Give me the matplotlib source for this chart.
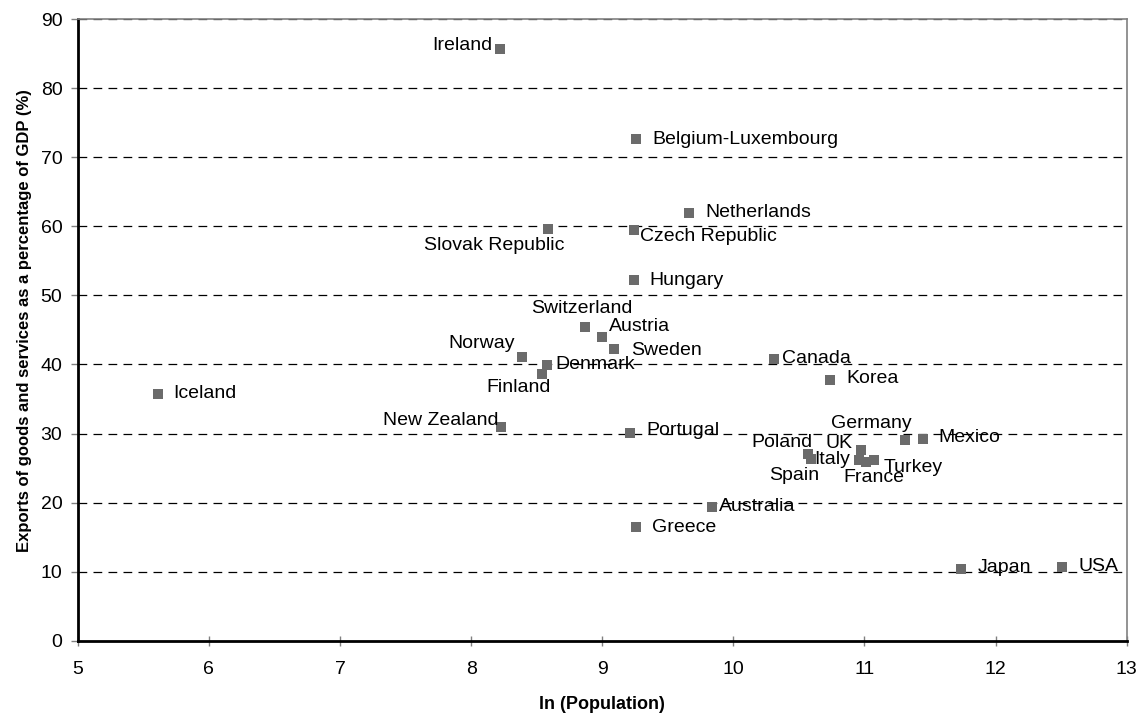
import numpy as np
import matplotlib
matplotlib.use("Agg")
import matplotlib.pyplot as plt

plt.rcParams['font.family'] = ['Liberation Sans', 'DejaVu Sans']

countries = ["Ireland", "Belgium-Luxembourg", "Netherlands", "Slovak Republic",
             "Czech Republic", "Hungary", "Switzerland", "Austria", "Sweden",
             "Norway", "Denmark", "Finland", "Canada", "Korea", "Iceland",
             "New Zealand", "Portugal", "Australia", "Greece", "Japan", "USA",
             "Poland", "Spain", "Italy", "UK", "Germany", "France", "Turkey",
             "Mexico"]
ln_pop = [8.22, 9.26, 9.66, 8.59,
          9.24, 9.24, 8.87, 9.00, 9.09,
          8.39, 8.58, 8.54, 10.31, 10.74, 5.61,
          8.23, 9.21, 9.84, 9.26, 11.74, 12.51,
          10.57, 10.59, 10.96, 10.97, 11.31, 11.01, 11.07,
          11.45]
exports = [85.6, 72.6, 61.9, 59.6,
           59.4, 52.2, 45.4, 43.9, 42.2,
           41.1, 39.9, 38.6, 40.8, 37.7, 35.7,
           31.0, 30.1, 19.4, 16.4, 10.4, 10.7,
           27.0, 26.3, 26.2, 27.6, 29.0, 25.9, 26.1,
           29.2]

# label placement: pixel offset (dx, dy) and alignment
label_pos = {
    "Ireland": (-8, 4, "right"), "Belgium-Luxembourg": (16, 0, "left"),
    "Netherlands": (17, 1, "left"), "Slovak Republic": (-54, -16, "center"),
    "Czech Republic": (6, -6, "left"), "Hungary": (16, 0, "left"),
    "Switzerland": (-3, 19, "center"), "Austria": (7, 11, "left"),
    "Sweden": (17, -1, "left"), "Norway": (-7, 13, "right"),
    "Denmark": (8, 1, "left"), "Finland": (-23, -13, "center"),
    "Canada": (8, 0, "left"), "Korea": (16, 2, "left"),
    "Iceland": (16, 1, "left"), "New Zealand": (-3, 6, "right"),
    "Portugal": (17, 2, "left"), "Australia": (7, 0, "left"),
    "Greece": (16, 0, "left"), "Japan": (16, 1, "left"),
    "USA": (16, 0, "left"), "Poland": (4, 12, "right"),
    "Spain": (-17, -16, "center"), "Italy": (-9, 0, "right"),
    "UK": (-8, 7, "right"), "Germany": (-34, 17, "center"),
    "France": (8, -16, "center"), "Turkey": (10, -7, "left"),
    "Mexico": (15, 2, "left"),
}

fig = plt.figure(figsize=(11.45, 7.18), dpi=100)
ax = fig.add_axes([0.0679, 0.1076, 0.9161, 0.8659])

ax.set_xlim(5, 13)
ax.set_ylim(0, 90)
ax.set_xticks(np.arange(5, 14, 1))
ax.set_yticks(np.arange(0, 100, 10))

for yv in range(10, 100, 10):
    ax.axhline(yv, color="black", lw=0.9, dashes=(7, 5), zorder=1)

ax.scatter(ln_pop, exports, marker="s", s=44, color="#6b6b6b", zorder=3,
           linewidths=0)

px = 0.72
for name, x, y in zip(countries, ln_pop, exports):
    dx, dy, ha = label_pos[name]
    ax.annotate(name, (x, y), xytext=(dx * px, dy * px), textcoords="offset points",
                ha=ha, va="center", fontsize=14, color="black", zorder=4)

for side in ["left", "bottom"]:
    ax.spines[side].set_linewidth(2)
    ax.spines[side].set_color("black")
for side in ["top", "right"]:
    ax.spines[side].set_linewidth(1.2)
    ax.spines[side].set_color("#808080")

ax.tick_params(axis="y", direction="out", length=5, width=1, color="#808080",
               labelsize=14, pad=6)
ax.tick_params(axis="x", direction="inout", length=7, width=1, color="#808080",
               labelsize=14, pad=11)

ax.set_xlabel("ln (Population)", fontsize=13, fontweight="bold", labelpad=13)
ax.set_ylabel("Exports of goods and services as a percentage of GDP (%)",
              fontsize=12, fontweight="bold")
ax.yaxis.set_label_coords(-0.044, 0.515)

fig.savefig("out.png", dpi=100)
